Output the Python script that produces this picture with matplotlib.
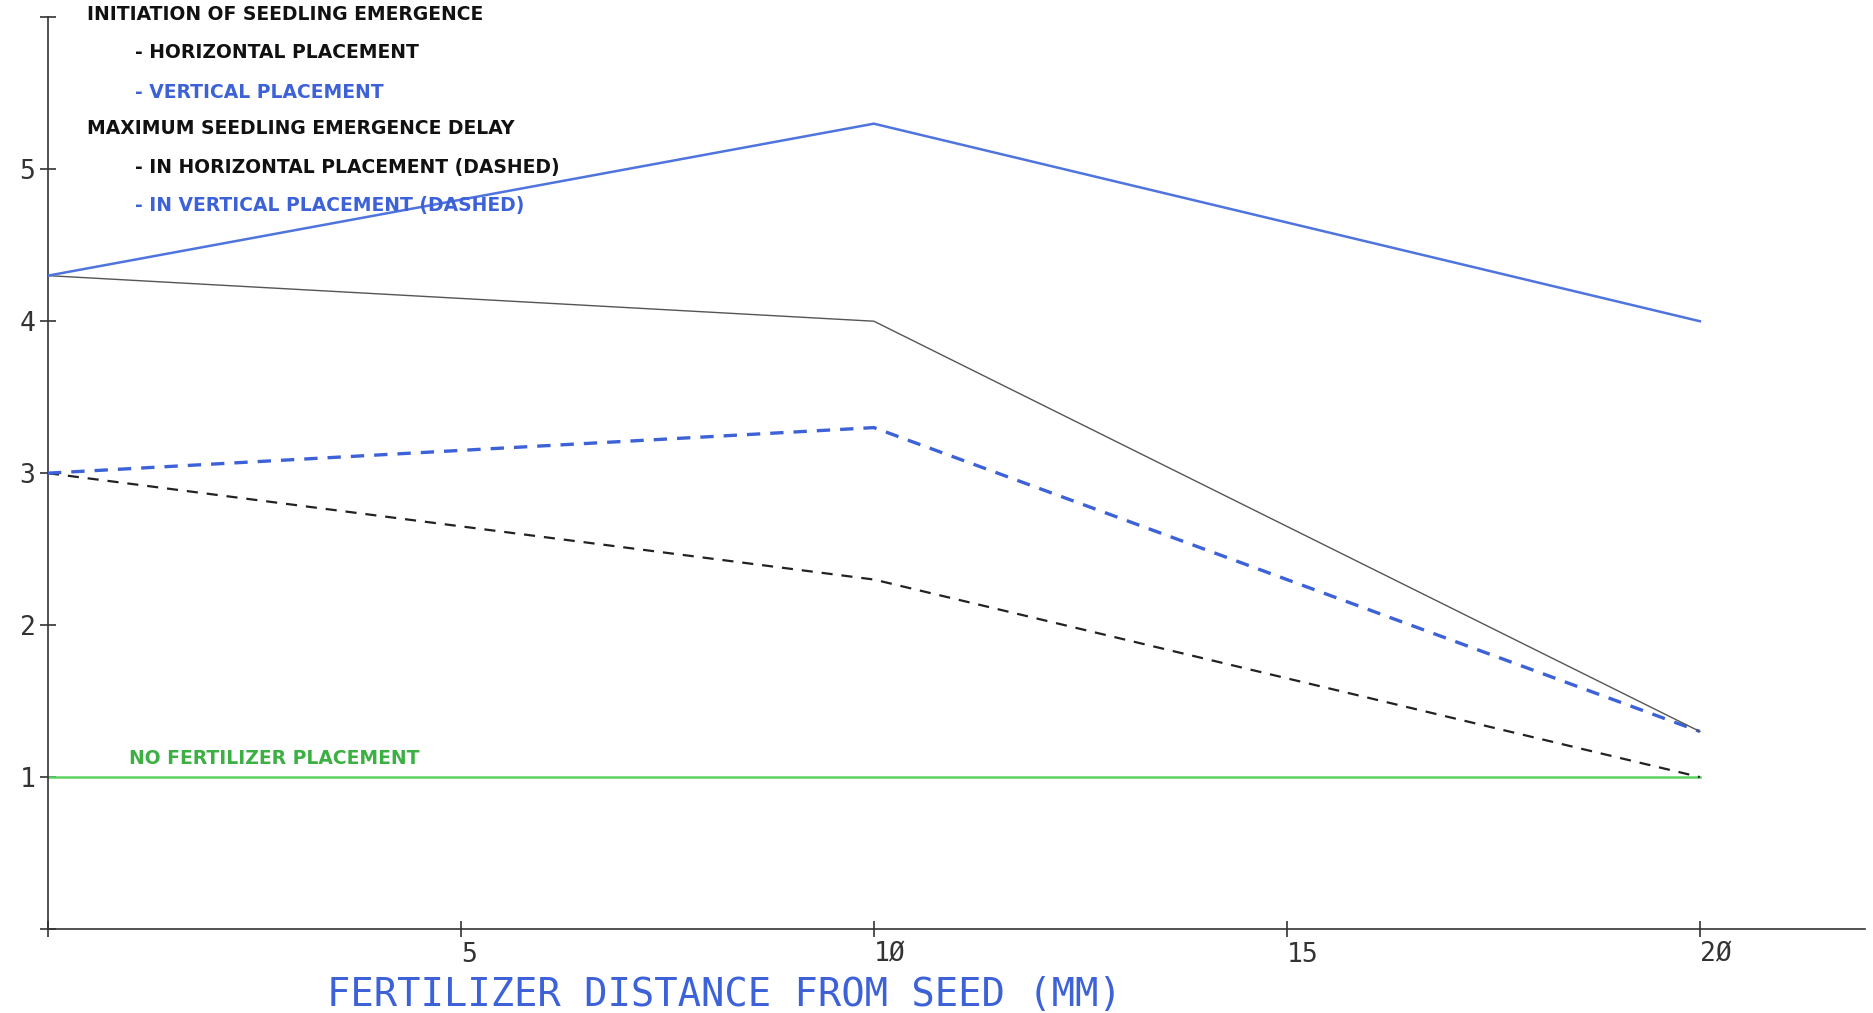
import matplotlib
matplotlib.use("Agg")
import matplotlib.pyplot as plt

# fertilizer distance from seed (mm)
distance = [0, 10, 20]

# initiation of seedling emergence (solid)
init_horizontal = [4.3, 4.0, 1.3]
init_vertical = [4.3, 5.3, 4.0]
# maximum seedling emergence delay (dashed)
delay_horizontal = [3.0, 2.3, 1.0]
delay_vertical = [3.0, 3.3, 1.3]
# control
no_fertilizer = [1.0, 1.0, 1.0]

x_ticks = [0, 5, 10, 15, 20]
x_tick_labels = ["", "5", "1\u00d8", "15", "2\u00d8"]
y_ticks = [0, 1, 2, 3, 4, 5, 6]
y_tick_labels = ["", "1", "2", "3", "4", "5", ""]

BLUE = "#4f74de"
DBLUE = "#3d62d8"
GREEN = "#5cd262"
TXTGREEN = "#3cb043"
AXC = "#333333"

fig = plt.figure(figsize=(18.74, 10.13), dpi=100)
ax = fig.add_axes([0.0256, 0.0829, 0.9696, 0.900])

ax.plot(distance, no_fertilizer, color=GREEN, lw=1.8, zorder=2)
ax.plot(distance, delay_horizontal, color="#222222", lw=1.6, ls=(0, (5, 4)), zorder=3)
ax.plot(distance, delay_vertical, color=DBLUE, lw=2.4, ls=(0, (4, 3)), zorder=3)
ax.plot(distance, init_horizontal, color="#555555", lw=1.0, zorder=3)
ax.plot(distance, init_vertical, color=BLUE, lw=1.8, zorder=3)

ax.set_xlim(0, 22)
ax.set_ylim(0, 6)
for s in ["top", "right"]:
    ax.spines[s].set_visible(False)
for s in ["left", "bottom"]:
    ax.spines[s].set_color(AXC)
    ax.spines[s].set_linewidth(1.2)

mono = "DejaVu Sans Mono"
ax.set_xticks(x_ticks)
ax.set_xticklabels(x_tick_labels, fontfamily=mono, fontsize=19, color=AXC)
for lbl in ax.get_xticklabels():
    lbl.set_ha("left")
ax.set_yticks(y_ticks)
ax.set_yticklabels(y_tick_labels, fontfamily=mono, fontsize=19, color=AXC)
ax.tick_params(axis="both", direction="inout", length=12, width=1.2, color=AXC)
ax.tick_params(axis="y", pad=3)
ax.tick_params(axis="x", pad=3)

# axis title drawn as figure text so it sits where the plotter put it
fig.text(724 / 1874, 1 - 995 / 1013, "FERTILIZER DISTANCE FROM SEED (MM)",
         fontfamily=mono, fontsize=28, color=DBLUE, ha="center", va="center")

items = [
    (87, 14, "INITIATION OF SEEDLING EMERGENCE", "#111111"),
    (135, 53, "- HORIZONTAL PLACEMENT", "#111111"),
    (135, 92, "- VERTICAL PLACEMENT", DBLUE),
    (87, 129, "MAXIMUM SEEDLING EMERGENCE DELAY", "#111111"),
    (135, 167, "- IN HORIZONTAL PLACEMENT (DASHED)", "#111111"),
    (135, 205, "- IN VERTICAL PLACEMENT (DASHED)", DBLUE),
]
for px, py, label, col in items:
    fig.text(px / 1874, 1 - py / 1013, label, color=col, fontsize=13.5,
             fontweight="bold", ha="left", va="center")

fig.text(129 / 1874, 1 - 758 / 1013, "NO FERTILIZER PLACEMENT", color=TXTGREEN,
         fontsize=13.5, fontweight="bold", ha="left", va="center")

fig.savefig("out.png", dpi=100, facecolor="white")
